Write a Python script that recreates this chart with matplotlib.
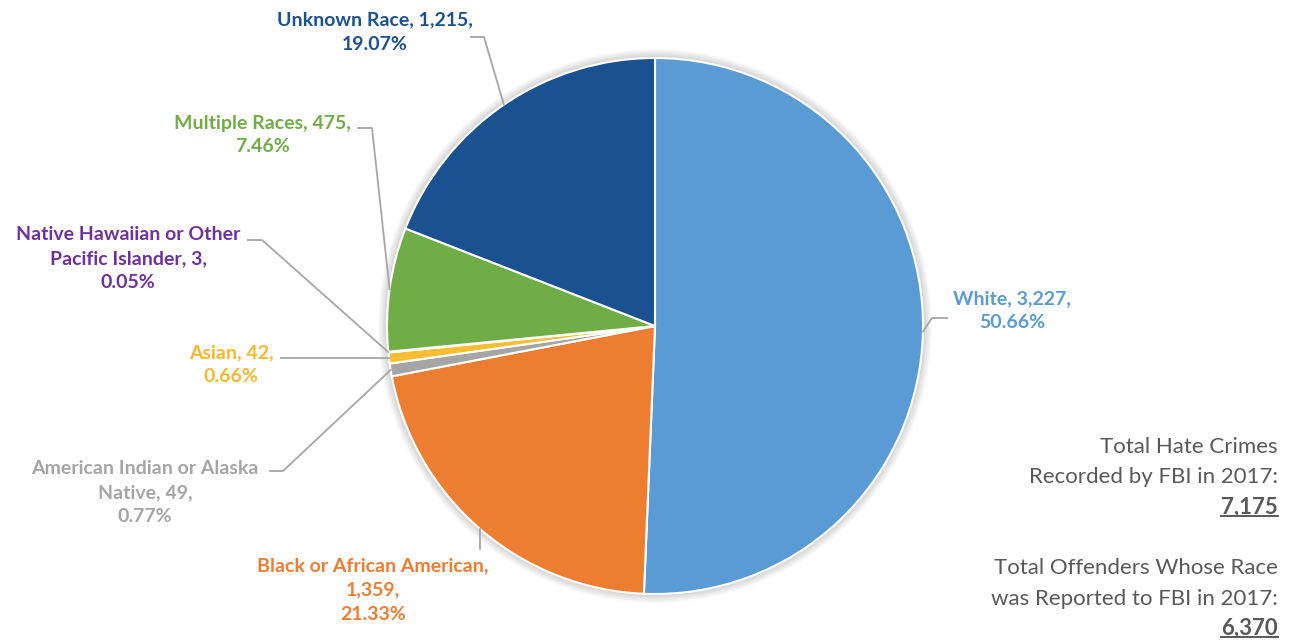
import numpy as np
import matplotlib.pyplot as plt
from matplotlib.patches import Circle

plt.rcParams['font.family'] = ['Lato', 'DejaVu Sans']

# offenders by race, FBI 2017
races = ['White', 'Black or African American', 'American Indian or Alaska Native',
         'Asian', 'Native Hawaiian or Other Pacific Islander', 'Multiple Races', 'Unknown Race']
label_names = ['White', 'Black or African American,\n', 'American Indian or Alaska\nNative',
               'Asian', 'Native Hawaiian or Other\nPacific Islander', 'Multiple Races', 'Unknown Race']
offenders = [3227, 1359, 49, 42, 3, 475, 1215]
colors = ['#5B9BD5', '#ED7D31', '#A5A5A5', '#FBBD32', '#7030A0', '#70AD47', '#1A5190']
label_colors = ['#5B9BD5', '#ED7D31', '#A5A5A5', '#F7B731', '#7030A0', '#70AD47', '#1A5190']

total_crimes = 7175
total_offenders = sum(offenders)

W, H = 1291, 640
cx, cy, R = 655, 326, 268


def up(y):
    return H - y


fig = plt.figure(figsize=(W / 100, H / 100), dpi=100)
ax = fig.add_axes([0, 0, 1, 1])

# soft shadow round the pie
for k in range(1, 10):
    ax.add_patch(Circle((cx, up(cy)), R + k, color='#000000', alpha=0.018, lw=0, zorder=0))

wedges, _ = ax.pie(offenders, colors=colors, startangle=90, counterclock=False,
                   center=(cx, up(cy)), radius=R, frame=True,
                   wedgeprops=dict(edgecolor='white', linewidth=1.5))
for w in wedges:
    w.set_zorder(2)
ax.set_xlim(0, W)
ax.set_ylim(0, H)
ax.set_aspect('equal')
ax.axis('off')

# label centres and leader paths (elbow points, top-down pixels)
label_pos = [(1012, 311), (373, 590), (145, 493), (231, 365), (128, 259), (262, 135), (375, 32)]
leaders = [
    [(947, 318), (932, 318)],
    [(480, 549)],
    [(270, 471), (283, 471)],
    [(281, 358)],
    [(248, 240), (262, 240)],
    [(358, 128), (372, 128)],
    [(471, 37), (484, 37)],
]

for i, w in enumerate(wedges):
    pct = offenders[i] / total_offenders * 100
    name = label_names[i]
    if name.endswith('\n'):
        text = f'{name}{offenders[i]:,},\n{pct:.2f}%'
    else:
        text = f'{name}, {offenders[i]:,},\n{pct:.2f}%'
    x, y = label_pos[i]
    ax.text(x, up(y), text, ha='center', va='center', color=label_colors[i],
            fontsize=14, fontweight='bold', linespacing=1.5, zorder=5)

    mid = np.deg2rad((w.theta1 + w.theta2) / 2)
    ex = cx + R * np.cos(mid)
    ey = up(cy) + R * np.sin(mid)
    pts = [(px, up(py)) for px, py in leaders[i]] + [(ex, ey)]
    ax.plot([p[0] for p in pts], [p[1] for p in pts], color='#A6A6A6', lw=1.3, zorder=3)

# totals on the right
right_lines = [
    ('Total Hate Crimes', 447, False),
    ('Recorded by FBI in 2017:', 477, False),
    (f'{total_crimes:,}', 507, True),
    ('Total Offenders Whose Race', 568, False),
    ('was Reported to FBI in 2017:', 599, False),
    (f'{total_offenders:,}', 628, True),
]
bold_texts = []
for s, y, bold in right_lines:
    t = ax.text(1278, up(y), s, ha='right', va='center', color='#595959',
                fontsize=16, fontweight='bold' if bold else 'normal')
    if bold:
        bold_texts.append(t)

# underline the two totals
fig.canvas.draw()
inv = ax.transData.inverted()
for t in bold_texts:
    bb = t.get_window_extent()
    (x0, y0), (x1, y1) = inv.transform([(bb.x0, bb.y0), (bb.x1, bb.y1)])
    ax.plot([x0, x1], [y0 + 1.2, y0 + 1.2], color='#595959', lw=1.4, clip_on=False)

fig.savefig('out.png', dpi=100, facecolor='white')
